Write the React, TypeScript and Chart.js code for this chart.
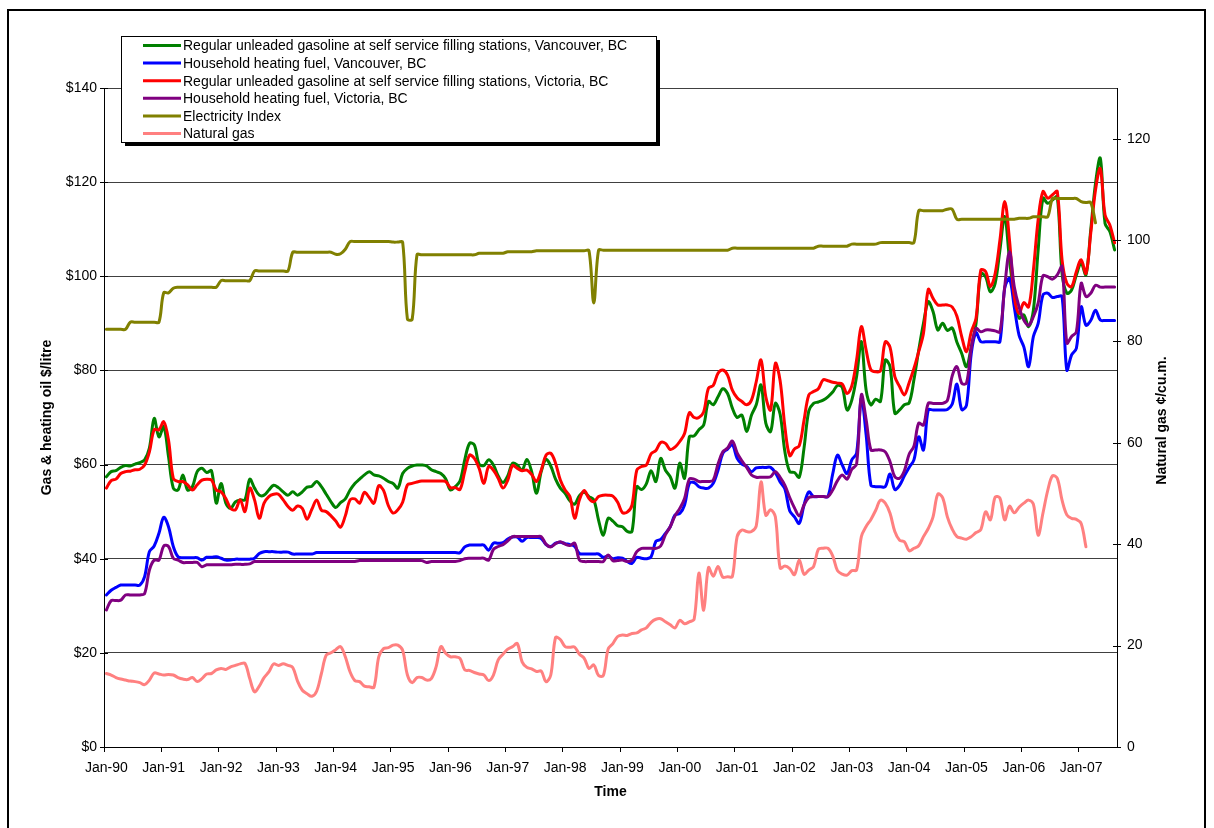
import React, { useEffect, useRef } from 'react';
import { Chart, registerables } from 'chart.js';

Chart.register(...registerables);

const FONT = '"Liberation Sans", Arial, Helvetica, sans-serif';

const MONTHS = ['Jan', 'Feb', 'Mar', 'Apr', 'May', 'Jun', 'Jul', 'Aug', 'Sep', 'Oct', 'Nov', 'Dec'];
const START_YEAR = 1990;
const MONTH_COUNT = 212; // Jan-90 .. Aug-07
const CATEGORIES: string[] = [];
for (let i = 0; i < MONTH_COUNT; i++) {
  const yr = (START_YEAR + Math.floor(i / 12)) % 100;
  CATEGORIES.push(MONTHS[i % 12] + '-' + String(yr).padStart(2, '0'));
}

const LEFT_TICKS = { min: 0, max: 140, step: 20 };
const RIGHT_TICKS = { min: 0, max: 130, step: 20 };

// Regular unleaded gasoline, Vancouver ($/litre axis)
const GAS_VANCOUVER = [
  57.4, 58.5, 58.7, 59.4, 59.8, 59.7, 60.1, 60.4, 61, 63.5,
  69.8, 65.9, 68.1, 61.7, 55, 54.6, 57.8, 54.6, 55.3, 58.5,
  59.2, 58.3, 58.7, 51.8, 56, 51.8, 50.7, 52.1, 52.5, 52.5,
  56.9, 55, 53.5, 53.5, 54.6, 55.6, 55.1, 54.2, 53.5, 54.2,
  53.5, 54.2, 55.2, 55.4, 56.4, 55.3, 53.7, 52.1, 50.9, 51.9,
  52.7, 54.6, 56, 56.9, 57.8, 58.5, 57.8, 57.6, 57.1, 56.4,
  56, 55, 58.1, 59.2, 59.7, 59.9, 59.9, 59.7, 58.9, 58.5,
  58.1, 57, 54.6, 55.3, 56.5, 61, 64.5, 64.2, 60.1, 59.8,
  61, 59.9, 57.6, 56.2, 57.6, 60.3, 59.9, 58.8, 61.1, 58.5,
  53.9, 58.5, 61.1, 59.7, 56.9, 55, 53.9, 52.3, 51.6, 53.4,
  54.1, 53.2, 52.5, 48.2, 45, 48.6, 48, 47, 46.8, 45.8,
  45.8, 55.3, 54.7, 55.9, 58.7, 56.4, 61.3, 58.8, 57.4, 55,
  60.3, 57.1, 65.9, 66.1, 67.4, 68.4, 73.4, 72.7, 74.4, 76.1,
  75.1, 72, 70, 70.5, 67, 70.5, 72.7, 76.9, 68.8, 67,
  73, 70.7, 62.7, 58.5, 58.3, 57.3, 63.5, 71.4, 73, 73.3,
  73.7, 74.4, 75.4, 76.8, 76.4, 71.6, 73.7, 78.7, 86.1, 75.8,
  72.7, 73.9, 73.4, 82.2, 80.8, 70.9, 71.6, 72.7, 73.1, 78,
  84.3, 90, 94.6, 92.5, 88.6, 90, 88.5, 89, 86, 83.6,
  80.8, 85, 90, 100.6, 99.9, 96.7, 98.5, 105.6, 112.7, 103.5,
  95.7, 91.1, 91.8, 89.3, 92.8, 105.6, 116.6, 115.5, 116.2, 116.9,
  100.6, 96.4, 97.1, 100.3, 102.7, 100.3, 109.8, 119.7, 125.1, 111.2,
  109.5, 105.6,
];

// Household heating fuel, Vancouver
const OIL_VANCOUVER = [
  32.3, 33.3, 33.9, 34.4, 34.4, 34.4, 34.4, 34.4, 36.2, 41.5,
  42.7, 45.4, 48.8, 46.8, 42.6, 40.4, 40.2, 40.2, 40.2, 40.2,
  39.7, 40.3, 40.3, 40.4, 40.1, 39.7, 39.7, 39.9, 39.9, 39.9,
  39.9, 40.1, 41.1, 41.5, 41.5, 41.5, 41.4, 41.4, 41.4, 41,
  41, 41, 41, 41, 41.3, 41.3, 41.3, 41.3, 41.3, 41.3,
  41.3, 41.3, 41.3, 41.3, 41.3, 41.3, 41.3, 41.3, 41.3, 41.3,
  41.3, 41.3, 41.3, 41.3, 41.3, 41.3, 41.3, 41.3, 41.3, 41.3,
  41.3, 41.3, 41.3, 41.3, 41.3, 42.5, 42.9, 42.9, 42.9, 42.9,
  41.8, 43.3, 43.3, 43.4, 44.2, 44.6, 44.6, 43.7, 44.5, 44.5,
  44.5, 44.3, 43, 42.6, 43.3, 43.5, 43.2, 43, 42.6, 41.1,
  41, 41, 41, 41, 40.3, 40.6, 40, 40.2, 40.1, 39.4,
  39, 40.3, 40.1, 40, 40.4, 43.7, 44.1, 45.4, 46.8, 49.3,
  49.6, 51.4, 56, 56.2, 55.3, 55, 55, 56, 58.8, 62.4,
  63.3, 64.2, 61.3, 60.1, 59.6, 58.5, 59.3, 59.4, 59.4, 59.4,
  58.3, 56.3, 54.8, 50.2, 48.9, 47.5, 51.4, 54.2, 53.2, 53.2,
  53.2, 53.2, 58, 62, 59.9, 58.1, 61, 62.4, 74.1, 66.3,
  55.6, 55.3, 55.3, 55.3, 58, 54.7, 55.6, 57.6, 59.4, 61,
  65.9, 63.1, 71.6, 71.6, 71.6, 71.6, 71.7, 72.8, 77.1, 71.7,
  72.6, 83.6, 88, 86.1, 86.1, 86.1, 86.1, 86.1, 97.5, 99.5,
  93.5, 87.5, 85, 80.8, 87.2, 90, 96, 96.4, 95.5, 95.7,
  95.7, 80.1, 83.3, 84.7, 93.5, 89.6, 90.6, 92.8, 90.7, 90.6,
  90.6, 90.6,
];

// Regular unleaded gasoline, Victoria
const GAS_VICTORIA = [
  55, 56.6, 56.9, 58.1, 58.5, 58.6, 58.9, 59, 59.9, 62.7,
  67.4, 67.4, 69.1, 65.2, 57.1, 56.4, 56.4, 55.7, 54.6, 55.7,
  56.7, 56.9, 56.7, 54.6, 54.2, 52.8, 50.7, 50.4, 52.5, 50,
  55, 52.5, 48.6, 51.8, 53.2, 53.7, 53.7, 52.5, 51.1, 50.3,
  51.2, 50.7, 48.4, 50.5, 52.5, 50.3, 50, 49.1, 48, 46.7,
  49.1, 52.5, 52.7, 51.8, 54.1, 53, 51.8, 55.5, 54.5, 51.3,
  49.7, 50.4, 52, 55.7, 56, 56.3, 56.5, 56.5, 56.5, 56.5,
  56.5, 56.4, 55.1, 55.1, 54.7, 58.5, 62, 61.3, 59.2, 56,
  59.6, 58.8, 57.1, 55, 56.7, 59.8, 59.2, 58.7, 58.8, 57.9,
  56.4, 58.8, 62, 62.4, 60.3, 56.7, 54.6, 53.2, 48.6, 52.5,
  54.5, 52.8, 52.1, 53.2, 53.5, 53.5, 53.3, 52, 49.8, 49.9,
  51.4, 58.8, 59.6, 59.9, 62.3, 63, 64.7, 64.5, 63.2, 63.7,
  64.9, 66.6, 71, 70, 70, 71.2, 76.2, 76.8, 79.4, 80.1,
  79, 75.8, 74.2, 73.4, 72.7, 73.7, 77.6, 82.2, 74.4, 71.6,
  81.5, 77.8, 68, 61.9, 63.3, 64, 69.4, 74.8, 75.5, 76.1,
  78, 77.8, 77.5, 77.3, 77.1, 75.1, 76.7, 82.2, 89.3, 84.3,
  80.1, 79.7, 79.9, 86.1, 84.9, 78.7, 76.6, 74.8, 77.4, 80.4,
  84, 87.9, 97.2, 95.3, 93.9, 93.9, 93.9, 93.5, 91.5, 87.2,
  84, 88.2, 91.1, 101.3, 101, 97.8, 100.6, 107.7, 115.9, 107.7,
  95.7, 92.1, 94.4, 93.5, 101.3, 112, 118, 116.6, 117.3, 118,
  103.5, 98.5, 97.8, 101, 103.5, 100.6, 109.1, 118.3, 122.9, 113,
  110.9, 107.1,
];

// Household heating fuel, Victoria
const OIL_VICTORIA = [
  29.1, 31.1, 31.1, 31.2, 32.3, 32.3, 32.3, 32.3, 32.6, 37.6,
  39.7, 39.7, 42.7, 42.6, 40.1, 39.7, 39.2, 39.2, 39.2, 39.2,
  38.3, 38.7, 38.7, 38.7, 38.7, 38.7, 38.7, 38.8, 38.8, 38.8,
  38.9, 39.4, 39.4, 39.4, 39.4, 39.4, 39.4, 39.4, 39.4, 39.4,
  39.4, 39.4, 39.4, 39.4, 39.4, 39.4, 39.4, 39.4, 39.4, 39.4,
  39.4, 39.4, 39.4, 39.6, 39.6, 39.6, 39.6, 39.6, 39.6, 39.6,
  39.6, 39.6, 39.6, 39.6, 39.6, 39.6, 39.6, 39.2, 39.4, 39.4,
  39.4, 39.4, 39.4, 39.4, 39.6, 40, 40.1, 40.1, 40.1, 40.1,
  39.7, 42, 42.6, 43, 43.8, 44.7, 44.7, 44.7, 44.7, 44.7,
  44.7, 44.7, 43.1, 42.5, 43.2, 43.6, 43.1, 42.8, 43.3, 39.7,
  39.4, 39.4, 39.4, 39.4, 39.4, 40.8, 39.6, 39.6, 39.7, 39.4,
  39.7, 41.5, 42.2, 42.2, 42.2, 42.2, 42.7, 45.1, 46.8, 49.1,
  50.7, 52.8, 56.9, 56.9, 56.4, 56.4, 56.4, 56.7, 60.1, 62.7,
  63.5, 65, 62.5, 60.8, 59.4, 57.8, 57.3, 57.3, 57.3, 57.4,
  58.5, 57.3, 55.6, 53, 50.8, 49.1, 51.4, 53, 53.2, 53.2,
  53.2, 53.2, 54.6, 56.6, 57.8, 56.9, 59, 60.1, 74.8, 69.5,
  63.1, 63.1, 63.1, 62.7, 60.6, 57.4, 57.1, 58.7, 62.2, 63.9,
  68.8, 68.4, 73, 73, 73, 73, 73.6, 78.8, 80.8, 77.3,
  77.3, 84.7, 88.9, 88.2, 88.6, 88.6, 88.4, 88.2, 97.8, 105.2,
  97.8, 93.5, 90.7, 89.6, 91.4, 94.3, 100.1, 99.9, 99.4, 100.3,
  102.1, 85.8, 87.2, 88.2, 98.5, 95.7, 96.4, 98.1, 97.7, 97.7,
  97.7, 97.7,
];

// Electricity Index (right axis)
const ELECTRICITY = [
  82.4, 82.4, 82.4, 82.4, 82.4, 83.8, 83.8, 83.8, 83.8, 83.8,
  83.8, 83.8, 89.6, 89.6, 90.5, 90.7, 90.7, 90.7, 90.7, 90.7,
  90.7, 90.7, 90.7, 90.7, 92, 92, 92, 92, 92, 92,
  92, 93.9, 93.9, 93.9, 93.9, 93.9, 93.9, 93.9, 93.9, 97.6,
  97.6, 97.6, 97.6, 97.6, 97.6, 97.6, 97.6, 97.6, 97.2, 97.3,
  98.2, 99.7, 99.7, 99.7, 99.7, 99.7, 99.7, 99.7, 99.7, 99.7,
  99.6, 99.6, 99.6, 84.4, 84.4, 97.1, 97.1, 97.1, 97.1, 97.1,
  97.1, 97.1, 97.1, 97.1, 97.1, 97.1, 97.1, 97.1, 97.4, 97.4,
  97.4, 97.4, 97.4, 97.4, 97.7, 97.7, 97.7, 97.7, 97.7, 97.7,
  97.9, 97.9, 97.9, 97.9, 97.9, 97.9, 97.9, 97.9, 97.9, 97.9,
  97.9, 97.9, 87.6, 98, 98, 98, 98, 98, 98, 98,
  98, 98, 98, 98, 98, 98, 98, 98, 98, 98,
  98, 98, 98, 98, 98, 98, 98, 98, 98, 98,
  98, 98.4, 98.4, 98.4, 98.4, 98.4, 98.4, 98.4, 98.4, 98.4,
  98.4, 98.4, 98.4, 98.4, 98.4, 98.4, 98.4, 98.4, 98.4, 98.8,
  98.8, 98.8, 98.8, 98.8, 98.8, 98.8, 99.2, 99.2, 99.2, 99.2,
  99.2, 99.2, 99.5, 99.5, 99.5, 99.5, 99.5, 99.5, 99.5, 99.5,
  105.8, 105.8, 105.8, 105.8, 105.8, 105.8, 106.1, 106.1, 104.1, 104.1,
  104.1, 104.1, 104.1, 104.1, 104.1, 104.1, 104.1, 104.1, 104.1, 104.1,
  104.1, 104.3, 104.3, 104.3, 104.6, 104.6, 104.6, 104.6, 108.2, 108.2,
  108.2, 108.2, 108.2, 108.2, 107.6, 107.4, 107.4, 103.4,
];

// Natural gas, cents per cubic metre (right axis)
const NATURAL_GAS = [
  14.5, 14.2, 13.7, 13.4, 13.2, 13, 12.9, 12.7, 12.3, 13.2,
  14.6, 14.4, 14.2, 14.3, 14.2, 13.7, 13.4, 13.3, 13.7, 12.9,
  13.5, 14.4, 14.5, 15.2, 15.5, 15.3, 15.8, 16.1, 16.4, 16.5,
  13.5, 10.9, 12, 13.7, 14.8, 16.4, 16.1, 16.4, 16.1, 15.7,
  13, 11.2, 10.5, 10, 11, 14.5, 18.1, 18.6, 19.2, 19.8,
  17.8, 14.8, 13.1, 12.9, 12, 11.9, 11.8, 17.8, 19.4, 19.6,
  20.1, 20.1, 19.1, 14.2, 12.7, 13.7, 13.7, 13.2, 13.5, 15.8,
  19.8, 18.5, 17.8, 17.8, 17.5, 15.2, 15.1, 14.7, 14.4, 14.2,
  13.1, 14.2, 17.2, 18.3, 19.3, 19.8, 20.4, 16.8, 15.7, 15.4,
  14.9, 15, 12.9, 14.2, 21.6, 21.2, 19.8, 19.7, 19.7, 18.3,
  17.5, 15.5, 16.2, 14.1, 14.1, 19.3, 20.4, 21.8, 22.1, 22,
  22.4, 22.5, 23.1, 23.5, 24.6, 25.2, 25.3, 24.7, 24.1, 23.5,
  25, 24.3, 24.7, 25.2, 34.3, 27, 35.4, 33.7, 35.6, 33.5,
  33.6, 33.6, 41.5, 42.8, 42.5, 42.5, 43.6, 52.3, 45.7, 46.8,
  45.4, 35.3, 35.7, 35.2, 34, 36.9, 34.1, 34.9, 35.6, 39,
  39.2, 39.2, 37.7, 34.8, 34.1, 33.9, 34.8, 34.9, 41.5, 43.5,
  44.9, 46.7, 48.7, 48.1, 46.1, 42.5, 40.8, 40.5, 38.7, 39.2,
  39.7, 41.5, 43.1, 45.4, 49.9, 49.2, 45.4, 43, 41.5, 41.2,
  41, 41.5, 42.3, 42.9, 46.4, 44.8, 49.3, 49.1, 44.8, 47.5,
  46.2, 47.3, 48.1, 48.7, 47.9, 41.8, 46.1, 50.6, 53.5, 53,
  48.7, 45.8, 45.1, 44.9, 44.1, 39.5,
];

const SERIES = [
  { label: 'Regular unleaded gasoline at self service filling stations, Vancouver, BC', data: GAS_VANCOUVER, color: '#008000', axis: 'y' },
  { label: 'Household heating fuel, Vancouver, BC', data: OIL_VANCOUVER, color: '#0000FF', axis: 'y' },
  { label: 'Regular unleaded gasoline at self service filling stations, Victoria, BC', data: GAS_VICTORIA, color: '#FF0000', axis: 'y' },
  { label: 'Household heating fuel, Victoria, BC', data: OIL_VICTORIA, color: '#800080', axis: 'y' },
  { label: 'Electricity Index', data: ELECTRICITY, color: '#808000', axis: 'y2' },
  { label: 'Natural gas', data: NATURAL_GAS, color: '#FF8080', axis: 'y2' },
];

const LEFT_TITLE = 'Gas & heating oil $/litre';
const RIGHT_TITLE = 'Natural gas \u00A2/cu.m.';
const X_TITLE = 'Time';

const decorPlugin = {
  id: 'decor',
  afterDraw(chart: any) {
    const ctx = chart.ctx as CanvasRenderingContext2D;
    const area = chart.chartArea;
    ctx.save();
    // crossing tick marks on both value axes
    ctx.strokeStyle = '#000';
    ctx.lineWidth = 1;
    const ys = chart.scales.y;
    ys.ticks.forEach((t: any) => {
      const py = Math.round(ys.getPixelForValue(t.value)) + 0.5;
      ctx.beginPath();
      ctx.moveTo(area.left - 4, py);
      ctx.lineTo(area.left + 4, py);
      ctx.stroke();
    });
    const y2 = chart.scales.y2;
    y2.ticks.forEach((t: any) => {
      const py = Math.round(y2.getPixelForValue(t.value)) + 0.5;
      ctx.beginPath();
      ctx.moveTo(area.right - 4, py);
      ctx.lineTo(area.right + 4, py);
      ctx.stroke();
    });

    // right axis title, reading bottom to top
    ctx.save();
    ctx.translate(area.right + 45, (area.top + area.bottom) / 2 + 3);
    ctx.rotate(-Math.PI / 2);
    ctx.font = 'bold 14px ' + FONT;
    ctx.fillStyle = '#000';
    ctx.textAlign = 'center';
    ctx.textBaseline = 'middle';
    ctx.fillText(RIGHT_TITLE, 0, 0);
    ctx.restore();

    // legend box with shadow
    const bx = 121, by = 36, bw = 535, bh = 106;
    ctx.fillStyle = '#000';
    ctx.fillRect(bx + 4, by + 4, bw, bh);
    ctx.fillStyle = '#fff';
    ctx.fillRect(bx, by, bw, bh);
    ctx.strokeStyle = '#000';
    ctx.lineWidth = 1;
    ctx.strokeRect(bx + 0.5, by + 0.5, bw, bh);
    ctx.font = '14px ' + FONT;
    ctx.textAlign = 'left';
    ctx.textBaseline = 'middle';
    SERIES.forEach((s, i) => {
      const cy = by + 9.5 + i * 17.6;
      ctx.strokeStyle = s.color;
      ctx.lineWidth = 3;
      ctx.beginPath();
      ctx.moveTo(bx + 22, cy);
      ctx.lineTo(bx + 60, cy);
      ctx.stroke();
      ctx.fillStyle = '#000';
      ctx.fillText(s.label, bx + 62, cy + 1);
    });

    // outer frame
    ctx.strokeStyle = '#000';
    ctx.lineWidth = 2;
    ctx.strokeRect(8, 10, 1197, 840);
    ctx.restore();
  },
};

export default function App() {
  const ref = useRef<HTMLCanvasElement | null>(null);

  useEffect(() => {
    if (!ref.current) return;
    Chart.defaults.font.family = FONT;
    Chart.defaults.font.size = 14;
    Chart.defaults.color = '#000';

    const datasets = SERIES.map((s, i) => ({
      label: s.label,
      data: s.data,
      borderColor: s.color,
      backgroundColor: s.color,
      borderWidth: 3,
      pointRadius: 0,
      pointHoverRadius: 0,
      tension: 0.35,
      fill: false,
      yAxisID: s.axis,
      order: SERIES.length - i,
      borderJoinStyle: 'round' as const,
      borderCapStyle: 'round' as const,
    }));

    const chart = new Chart(ref.current, {
      type: 'line',
      data: { labels: CATEGORIES, datasets },
      options: {
        responsive: false,
        devicePixelRatio: 1,
        animation: false,
        events: [],
        layout: { padding: { top: 88, left: 0, right: 0, bottom: 0 } },
        plugins: { legend: { display: false }, tooltip: { enabled: false } },
        scales: {
          x: {
            type: 'category',
            offset: true,
            grid: {
              offset: true,
              drawOnChartArea: false,
              drawTicks: true,
              tickLength: 5,
              tickColor: (c: any) => (c.index % 12 === 0 ? '#000' : 'rgba(0,0,0,0)'),
              color: 'rgba(0,0,0,0)',
            },
            border: { display: true, color: '#000', width: 1 },
            ticks: {
              autoSkip: false,
              maxRotation: 0,
              minRotation: 0,
              padding: 8,
              color: '#000',
              font: { size: 14 },
              callback: (_v: any, idx: number) => (idx % 12 === 0 ? CATEGORIES[idx] : ''),
            },
            title: {
              display: true,
              text: X_TITLE,
              color: '#000',
              font: { size: 14, weight: 'bold' },
              padding: { top: 0, bottom: 27 },
            },
            afterFit: (s: any) => { s.height = 81; },
          },
          y: {
            position: 'left',
            min: LEFT_TICKS.min,
            max: LEFT_TICKS.max,
            ticks: {
              stepSize: LEFT_TICKS.step,
              padding: 7,
              color: '#000',
              font: { size: 14 },
              callback: (v: any) => '$' + v,
            },
            grid: { color: '#404040', lineWidth: 1, drawTicks: false },
            border: { display: true, color: '#000', width: 1 },
            title: {
              display: true,
              text: LEFT_TITLE,
              color: '#000',
              font: { size: 14, weight: 'bold' },
              padding: { top: 39, bottom: 0 },
            },
            afterFit: (s: any) => { s.width = 104; },
          },
          y2: {
            position: 'right',
            min: RIGHT_TICKS.min,
            max: RIGHT_TICKS.max,
            ticks: {
              stepSize: RIGHT_TICKS.step,
              includeBounds: false,
              padding: 10,
              color: '#000',
              font: { size: 14 },
              callback: (v: any) => (v % RIGHT_TICKS.step === 0 ? String(v) : ''),
            },
            grid: { drawOnChartArea: false, drawTicks: false },
            border: { display: true, color: '#000', width: 1 },
            afterFit: (s: any) => { s.width = 97; },
          },
        },
      },
      plugins: [decorPlugin],
    } as any);

    return () => chart.destroy();
  }, []);

  return (
    <div style={{ position: 'absolute', left: 0, top: 0, width: 1214, height: 828, background: '#fff' }}>
      <canvas ref={ref} width={1214} height={828} style={{ display: 'block', width: 1214, height: 828 }} />
    </div>
  );
}
